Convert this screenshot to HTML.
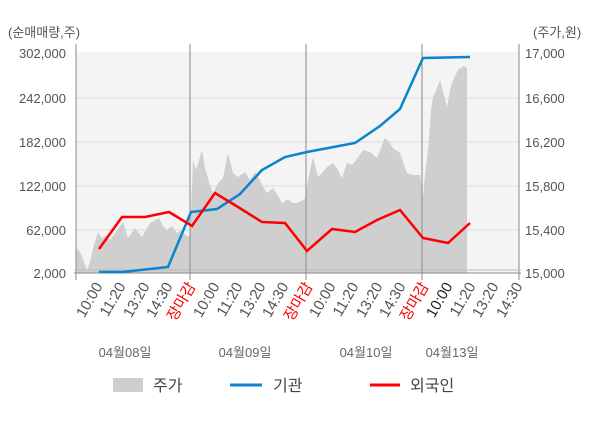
<!DOCTYPE html>
<html><head><meta charset="utf-8"><style>
body{margin:0;background:#fff;}
svg{display:block;font-family:"Liberation Sans","Noto Sans CJK KR",sans-serif;}
</style></head><body>
<svg width="600" height="428" viewBox="0 0 600 428">
<rect x="76" y="52" width="443" height="221" fill="#f4f4f4"/>
<g stroke="#dcdcdc" stroke-width="1">
<line x1="76" y1="98" x2="519" y2="98"/><line x1="76" y1="142" x2="519" y2="142"/>
<line x1="76" y1="186" x2="519" y2="186"/><line x1="76" y1="230" x2="519" y2="230"/>
</g>
<path fill="#cfcfcf" d="M76,273 L76,248 L80,252 L84,262 L87,270 L90,262 L94,245 L98,232 L102,238 L106,236 L110,240 L116,232 L123,222 L128,238 L135,228 L142,237 L150,223 L159,218 L163,226 L167,230 L172,226 L177,233 L182,230 L185,235 L190,237 L193,160 L196,170 L202,150 L205,168 L210,185 L213,193 L218,183 L223,178 L228,153 L233,173 L238,177 L245,172 L250,180 L255,172 L258,177 L262,185 L267,193 L273,188 L278,196 L282,203 L288,199 L293,203 L297,203 L305,199 L308,180 L313,157 L318,177 L323,172 L327,167 L333,163 L338,170 L342,178 L347,163 L352,165 L357,159 L363,150 L370,152 L377,158 L381,148 L385,138 L389,142 L393,148 L400,153 L404,165 L407,173 L413,175 L420,175 L423,197 L426,165 L428,150 L431,110 L433,97 L437,88 L440,80 L444,95 L447,107 L450,90 L452,83 L455,76 L458,70 L461,68 L463,66 L467,68 L467,273 Z"/>
<g stroke="#888" stroke-width="1">
<line x1="76" y1="44" x2="76" y2="280"/><line x1="190" y1="44" x2="190" y2="280"/>
<line x1="306" y1="44" x2="306" y2="280"/><line x1="422" y1="44" x2="422" y2="280"/>
<line x1="519" y1="44" x2="519" y2="280"/>
<line x1="74" y1="273" x2="521" y2="273"/><line x1="74" y1="270" x2="521" y2="270" stroke="#bbb"/>
</g>
<polyline fill="none" stroke="#0a84cc" stroke-width="2.5" points="99,272 122,272 168,267 191,212 217,209 240,194 262,170 285,157 307,152 355,143 380,126 400,109 423,58 470,57"/>
<polyline fill="none" stroke="#f00" stroke-width="2.5" points="99,249 122,217 145,217 169,212 192,226 215,193 238,207 262,222 285,223 307,251 332,229 355,232 377,220 400,210 423,238 448,243 470,223"/>
<g font-size="13" fill="#555">
<text x="8" y="37">(순매매량,주)</text>
<text x="533" y="37">(주가,원)</text>
<g text-anchor="end">
<text x="66" y="58">302,000</text><text x="66" y="103">242,000</text><text x="66" y="147">182,000</text>
<text x="66" y="191">122,000</text><text x="66" y="235">62,000</text><text x="66" y="278">2,000</text>
</g>
<text x="525" y="58">17,000</text><text x="525" y="103">16,600</text><text x="525" y="147">16,200</text>
<text x="525" y="191">15,800</text><text x="525" y="235">15,400</text><text x="525" y="278">15,000</text>
</g>
<g font-size="15" fill="#555" text-anchor="end">
<text transform="translate(103,286) rotate(-60)">10:00</text>
<text transform="translate(126,286) rotate(-60)">11:20</text>
<text transform="translate(150,286) rotate(-60)">13:20</text>
<text transform="translate(173,286) rotate(-60)">14:30</text>
<text transform="translate(196,286) rotate(-60)" fill="#f00">장마감</text>
<text transform="translate(220,286) rotate(-60)">10:00</text>
<text transform="translate(243,286) rotate(-60)">11:20</text>
<text transform="translate(266,286) rotate(-60)">13:20</text>
<text transform="translate(289,286) rotate(-60)">14:30</text>
<text transform="translate(313,286) rotate(-60)" fill="#f00">장마감</text>
<text transform="translate(336,286) rotate(-60)">10:00</text>
<text transform="translate(359,286) rotate(-60)">11:20</text>
<text transform="translate(383,286) rotate(-60)">13:20</text>
<text transform="translate(406,286) rotate(-60)">14:30</text>
<text transform="translate(429,286) rotate(-60)" fill="#f00">장마감</text>
<text transform="translate(453,286) rotate(-60)" fill="#222">10:00</text>
<text transform="translate(476,286) rotate(-60)">11:20</text>
<text transform="translate(499,286) rotate(-60)">13:20</text>
<text transform="translate(523,286) rotate(-60)">14:30</text>
</g>
<g font-size="13" fill="#666" text-anchor="middle">
<text x="125" y="357">04월08일</text><text x="245" y="357">04월09일</text>
<text x="366" y="357">04월10일</text><text x="452" y="357">04월13일</text>
</g>
<rect x="113" y="378" width="30" height="14" fill="#cfcfcf"/>
<text x="153" y="391" font-size="16" fill="#444">주가</text>
<line x1="230" y1="385" x2="262" y2="385" stroke="#0a84cc" stroke-width="3"/>
<text x="273" y="391" font-size="16" fill="#444">기관</text>
<line x1="370" y1="385" x2="400" y2="385" stroke="#f00" stroke-width="3"/>
<text x="410" y="391" font-size="16" fill="#444">외국인</text>
</svg>
</body></html>
